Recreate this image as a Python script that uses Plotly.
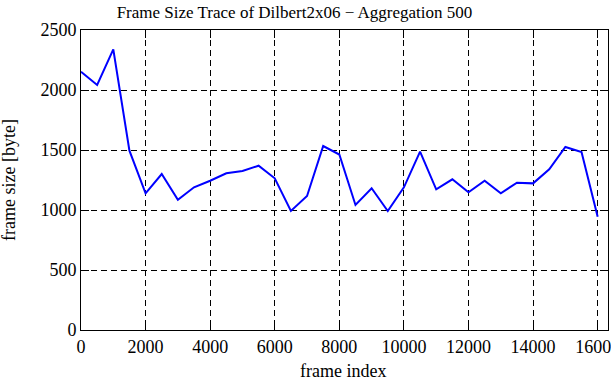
import plotly.graph_objects as go

frame_index = [0, 500, 1000, 1500, 2000, 2500, 3000, 3500, 4000, 4500, 5000, 5500,
               6000, 6500, 7000, 7500, 8000, 8500, 9000, 9500, 10000, 10500, 11000,
               11500, 12000, 12500, 13000, 13500, 14000, 14500, 15000, 15500, 16000]
frame_size = [2152, 2042, 2339, 1494, 1139, 1300, 1085, 1189, 1244, 1306, 1325, 1369,
              1264, 992, 1117, 1533, 1462, 1042, 1181, 992, 1189, 1486, 1172,
              1256, 1147, 1244, 1139, 1228, 1222, 1339, 1525, 1483, 944]

x_ticks = [0, 2000, 4000, 6000, 8000, 10000, 12000, 14000, 16000]
y_ticks = [0, 500, 1000, 1500, 2000, 2500]

title_text = "Frame Size Trace of Dilbert2x06 \u2212 Aggregation 500"
x_title = "frame index"
y_title = "frame size [byte]"

FONT = "Liberation Serif"

fig = go.Figure()
fig.add_trace(go.Scatter(x=frame_index, y=frame_size, mode="lines",
                         line=dict(color="#0000ff", width=2), showlegend=False,
                         hoverinfo="skip"))

axis_common = dict(
    automargin=False,
    showline=True, linecolor="black", linewidth=1, mirror="ticks",
    ticks="inside", ticklen=8, tickcolor="black", tickwidth=1,
    showgrid=True, gridcolor="black", gridwidth=1, griddash="6px,4px",
    zeroline=False, tickfont=dict(family=FONT, size=18, color="black"),
)

fig.update_layout(
    width=611, height=380,
    margin=dict(l=81, r=3, t=30, b=50, autoexpand=False),
    paper_bgcolor="white", plot_bgcolor="white",
    font=dict(family=FONT, color="black"),
    title=dict(text=title_text, x=(116 + 473) / 2 / 611, xanchor="center",
               y=1 - 12 / 380, yanchor="middle",
               font=dict(family=FONT, size=17, color="black")),
    xaxis=dict(range=[0, 16320], tickvals=x_ticks, ticktext=[str(v) for v in x_ticks],
               ticklabeloverflow="allow", **axis_common),
    yaxis=dict(range=[0, 2500], tickvals=y_ticks, ticktext=[str(v) for v in y_ticks],
               **axis_common),
    annotations=[
        dict(text=x_title, xref="paper", yref="paper", x=(343 - 81) / 527,
             y=-(371 - 330) / 300, xanchor="center", yanchor="middle",
             showarrow=False, font=dict(family=FONT, size=18, color="black")),
        dict(text=y_title, xref="paper", yref="paper", x=-(81 - 9) / 527,
             y=0.5, xanchor="center", yanchor="middle", textangle=-90,
             showarrow=False, font=dict(family=FONT, size=18, color="black")),
    ],
)

fig.write_html("out.html", config={"displayModeBar": False},
               post_script="document.body.style.margin='0px';document.body.style.overflow='hidden';")
